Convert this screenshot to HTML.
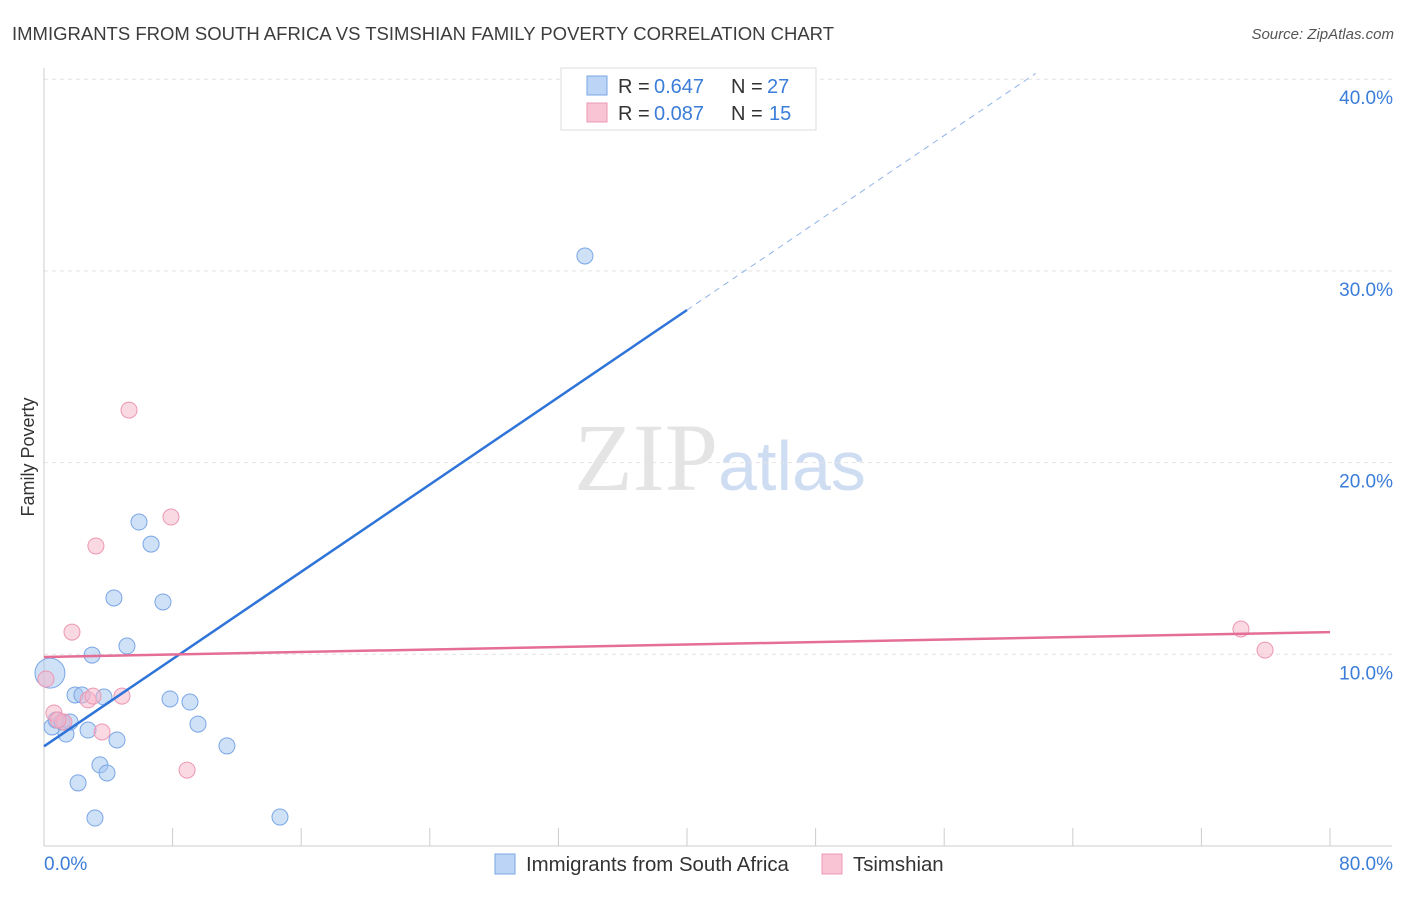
<!DOCTYPE html>
<html><head><meta charset="utf-8"><style>
body{margin:0;background:#fff;font-family:"Liberation Sans",sans-serif}
</style></head><body>
<svg id="chart" width="1406" height="892" xmlns="http://www.w3.org/2000/svg" font-family="Liberation Sans, sans-serif">
<text x="12" y="40" font-size="18.5" fill="#3c3c3c">IMMIGRANTS FROM SOUTH AFRICA VS TSIMSHIAN FAMILY POVERTY CORRELATION CHART</text>
<text x="1394" y="39" font-size="15" fill="#555" font-style="italic" text-anchor="end">Source: ZipAtlas.com</text>
<text x="720" y="490" font-size="96" text-anchor="middle" fill="#e4e4e4" font-family="Liberation Serif, serif">ZIP<tspan fill="#cfddf3" font-family="Liberation Sans, sans-serif" font-size="70">atlas</tspan></text>
<g id="grid"></g><g id="axes"></g><g id="marks"></g>
<text transform="translate(34,457) rotate(-90)" font-size="18" fill="#333" text-anchor="middle">Family Poverty</text>
<g>
<rect x="561" y="68" width="255" height="62" fill="#fff" stroke="#ddd"/>
<rect x="587" y="76" width="20" height="19" fill="#bcd4f6" stroke="#7aa6e6"/>
<rect x="587" y="103" width="20" height="19" fill="#f9c4d4" stroke="#ec98b3"/>
<text x="618" y="93" font-size="20" fill="#333">R =</text>
<text x="654" y="93" font-size="20" fill="#3b7dd8">0.647</text>
<text x="731" y="93" font-size="20" fill="#333">N =</text>
<text x="767" y="93" font-size="20" fill="#3b7dd8">27</text>
<text x="618" y="120" font-size="20" fill="#333">R =</text>
<text x="654" y="120" font-size="20" fill="#3b7dd8">0.087</text>
<text x="731" y="120" font-size="20" fill="#333">N =</text>
<text x="769" y="120" font-size="20" fill="#3b7dd8">15</text>
</g>
<g>
<rect x="495" y="854" width="20" height="20" fill="#bcd4f6" stroke="#7aa6e6"/>
<text x="526" y="871" font-size="20.4" fill="#333">Immigrants from South Africa</text>
<rect x="822" y="854" width="20" height="20" fill="#f9c4d4" stroke="#ec98b3"/>
<text x="853" y="871" font-size="20.4" fill="#333">Tsimshian</text>
</g>
</svg>
<script>
const blueX=[0.37,0.5,0.75,1.37,1.12,1.62,1.93,2.36,2.74,2.99,2.12,3.17,3.48,3.92,3.73,4.35,4.54,5.16,5.91,6.66,7.4,7.84,9.08,9.58,11.38,14.68,33.65];
const blueY=[9.02,6.21,6.57,5.84,6.47,6.47,7.88,7.88,6.05,9.96,3.29,1.46,4.23,3.81,7.77,12.94,5.53,10.43,16.9,15.75,12.73,7.67,7.51,6.36,5.22,1.51,30.78];
const pinkX=[0.12,0.62,1.24,0.87,1.74,2.74,3.05,3.23,3.61,4.85,5.29,7.9,8.9,74.46,75.96];
const pinkY=[8.71,6.94,6.47,6.57,11.16,7.62,7.82,15.65,5.95,7.82,22.74,17.16,3.96,11.32,10.22];
const blueTrend=[5.2,0.569];
const pinkTrend=[9.86,0.01625];
const yTicks=[10,20,30,40];
const yTickLabels=["10.0%","20.0%","30.0%","40.0%"];
const NS="http://www.w3.org/2000/svg";
const sx=v=>44+v*16.075, sy=v=>846-v*19.17;
function mk(tag,attrs,parent){const e=document.createElementNS(NS,tag);for(const k in attrs)e.setAttribute(k,attrs[k]);document.getElementById(parent).appendChild(e);return e;}
yTicks.forEach((t,i)=>{
 const g=mk('line',{x1:44,x2:1392,y1:sy(t),y2:sy(t),stroke:'#e4e4e4','stroke-dasharray':'4,4'},'grid');
 
 const l=mk('text',{x:1393,y:sy(t)+25,'font-size':19,fill:'#3b7dd8','text-anchor':'end'},'axes');l.textContent=yTickLabels[i];
 
});
let a=mk('line',{x1:44,x2:44,y1:68,y2:846,stroke:'#ccc'},'axes');
a=mk('line',{x1:44,x2:1392,y1:846,y2:846,stroke:'#ccc'},'axes');
for(let i=1;i<=10;i++){const t=mk('line',{x1:sx(i*8),x2:sx(i*8),y1:828,y2:846,stroke:'#ccc'},'axes');}
let xl=mk('text',{x:44,y:870,'font-size':19,fill:'#3b7dd8'},'axes');xl.textContent='0.0%';
xl=mk('text',{x:1393,y:870,'font-size':19,fill:'#3b7dd8','text-anchor':'end'},'axes');xl.textContent='80.0%';
blueX.forEach((x,i)=>{const c=mk('circle',{cx:sx(x),cy:sy(blueY[i]),r:i==0?15:8,fill:'rgba(160,195,240,0.5)',stroke:'#7aa6e6','stroke-width':1},'marks');});
pinkX.forEach((x,i)=>{const c=mk('circle',{cx:sx(x),cy:sy(pinkY[i]),r:8,fill:'rgba(247,180,200,0.5)',stroke:'#ec98b3','stroke-width':1},'marks');});
const bf=x=>blueTrend[0]+blueTrend[1]*x, pf=x=>pinkTrend[0]+pinkTrend[1]*x;
let tl=mk('line',{x1:sx(0),y1:sy(bf(0)),x2:sx(40),y2:sy(bf(40)),stroke:'#2f74d8','stroke-width':2.5},'marks');
const xe=(40.3-blueTrend[0])/blueTrend[1];
tl=mk('line',{x1:sx(40),y1:sy(bf(40)),x2:sx(xe),y2:sy(bf(xe)),stroke:'#8fb3e8','stroke-width':1,'stroke-dasharray':'6,5'},'marks');
tl=mk('line',{x1:sx(0),y1:sy(pf(0)),x2:sx(80),y2:sy(pf(80)),stroke:'#e56e97','stroke-width':2.5},'marks');
</script>
</body></html>
